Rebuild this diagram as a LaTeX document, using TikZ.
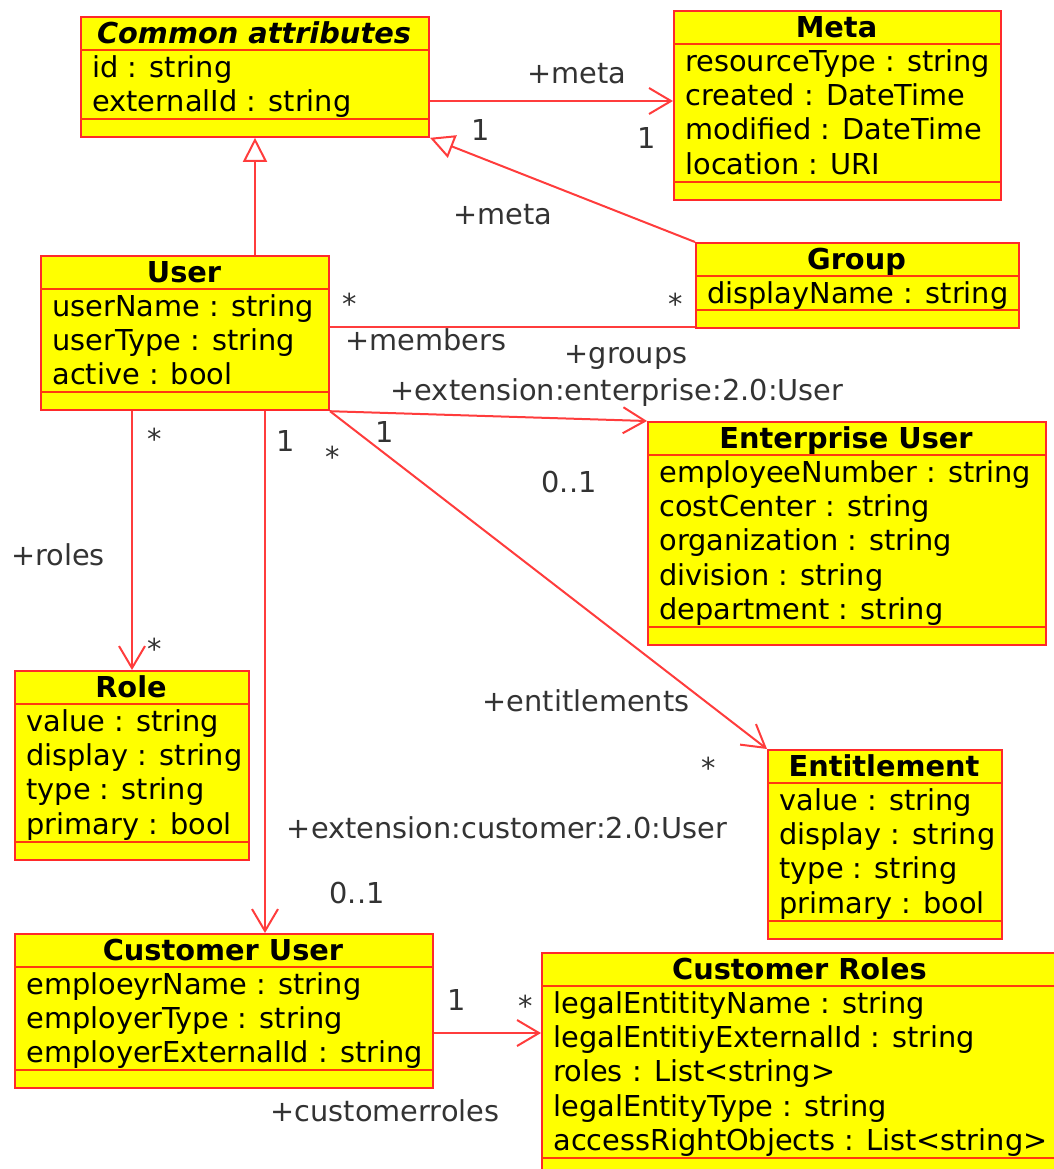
\documentclass[tikz,border=0pt]{standalone}
\usepackage{fontspec}
\setmainfont{DejaVu Sans}
\usetikzlibrary{arrows.meta,calc}

\definecolor{umlfill}{HTML}{FFFF00}
\definecolor{umlborder}{HTML}{FF2A2A}
\definecolor{umlsep}{HTML}{FF3A10}
\definecolor{umlline}{HTML}{FF3C3C}
\definecolor{umllabel}{HTML}{333333}

\newcommand\umlfont{\fontsize{14.4}{17}\selectfont}

\tikzset{
  classbox/.style={draw=umlborder, fill=umlfill, line width=1pt, inner sep=0pt, anchor=north west},
  classsep/.style={draw=umlsep, line width=1pt},
  classtitle/.style={font=\umlfont\bfseries, anchor=base, inner sep=0pt},
  attr/.style={font=\umlfont, anchor=base west, inner sep=0pt},
  lbl/.style={font=\umlfont, text=umllabel, anchor=base, inner sep=0pt},
  assoc/.style={draw=umlline, line width=1pt},
  navig/.style={assoc, -{Straight Barb[length=11pt,width=13pt,line width=1pt]}},
  generalize/.style={assoc, -{Triangle[open,length=12pt,width=12pt,fill=white,line width=1pt]}},
}

% class box: name, left, top, right, number of attributes, title, attribute list
\newcommand\umlclass[7]{%
  \pgfmathsetmacro\umlsepA{#3+34}%
  \pgfmathsetmacro\umlsepB{#3+34+#5*34.4}%
  \pgfmathsetmacro\umlbot{\umlsepB+17}%
  \node[classbox, minimum width={(#4-#2)*0.5pt}, minimum height={(\umlbot-#3)*0.5pt}] (#1) at (#2,#3) {};
  \draw[classsep] (#2,\umlsepA) -- (#4,\umlsepA);
  \draw[classsep] (#2,\umlsepB) -- (#4,\umlsepB);
  \node[classtitle] (#1-t) at ({(#2+#4)/2},{#3+27}) {#6};
  \foreach \t [count=\i] in {#7}
    \node[attr] (#1-a\i) at ({#2+12},{#3+61+(\i-1)*34.4}) {\t};
}

\begin{document}
\begin{tikzpicture}[x=0.5pt,y=-0.5pt]
\useasboundingbox (0,0) rectangle (1054,1169);
\clip (0,0) rectangle (1054,1169);

% classes
\umlclass{common}{80}{16}{428}{2}{\itshape Common attributes}{id : string, externalId : string}
\umlclass{meta}{673}{10}{1000}{4}{Meta}{resourceType : string, created : DateTime, modified : DateTime, location : URI}
\umlclass{group}{695}{242}{1018}{1}{Group}{displayName : string}
\umlclass{user}{40}{255}{328}{3}{User}{userName : string, userType : string, active : bool}
\umlclass{ent}{647}{421}{1045}{5}{Enterprise User}{employeeNumber : string, costCenter : string, organization : string, division : string, department : string}
\umlclass{role}{14}{670}{248}{4}{Role}{value : string, display : string, type : string, primary : bool}
\umlclass{entl}{767}{749}{1001}{4}{Entitlement}{value : string, display : string, type : string, primary : bool}
\umlclass{cuser}{14}{933}{432}{3}{Customer User}{emploeyrName : string, employerType : string, employerExternalId : string}
\umlclass{croles}{541}{952}{1058}{5}{Customer Roles}{legalEntitityName : string, legalEntitiyExternalId : string, roles : List<string>, legalEntityType : string, accessRightObjects : List<string>}

% generalizations
\coordinate (ugen) at ($(user.north west)+(215,0)$);
\draw[generalize] (ugen) -- (ugen |- common.south);
\draw[generalize] (group.north west) -- (common.south east);

% associations
\coordinate (cm) at ($(common.north east)+(0,85)$);
\draw[navig] (cm) -- (cm -| meta.west);
\coordinate (ug) at ($(group.south west)+(0,-2)$);
\draw[assoc] (ug) -- (ug -| user.east);
\draw[navig] (user.south east) -- (ent.north west);
\draw[navig] (user.south east) -- (entl.north west);
\draw[navig] (user.south -| role.north) -- (role.north);
\coordinate (ucu) at ($(user.south west)+(225,0)$);
\draw[navig] (ucu) -- (ucu |- cuser.north);
\coordinate (cucr) at ($(cuser.north east)+(0,100)$);
\draw[navig] (cucr) -- (cucr -| croles.west);

% role names and multiplicities
\node[lbl] (l-meta1) at (577,83) {+meta};
\node[lbl] (m-cm1) at (481,140) {1};
\node[lbl] (m-cm2) at (647,148) {1};
\node[lbl] (l-meta2) at (503,224) {+meta};
\node[lbl] (m-ug1) at (350,314) {*};
\node[lbl] (m-ug2) at (676,314) {*};
\node[lbl] (l-members) at (426,350) {+members};
\node[lbl] (l-groups) at (626,363) {+groups};
\node[lbl] (l-ext-ent) at (617,400) {+extension:enterprise:2.0:User};
\node[lbl] (m-ue1) at (385,442) {1};
\node[lbl] (m-uen1) at (333,467) {*};
\node[lbl] (m-ue2) at (569,492) {0..1};
\node[lbl] (m-ur1) at (155,449) {*};
\node[lbl] (m-uc1) at (286,451) {1};
\node[lbl] (l-roles) at (58,565) {+roles};
\node[lbl] (m-ur2) at (155,659) {*};
\node[lbl] (l-entl) at (586,711) {+entitlements};
\node[lbl] (m-uen2) at (709,778) {*};
\node[lbl] (l-ext-cust) at (507,838) {+extension:customer:2.0:User};
\node[lbl] (m-uc2) at (357,903) {0..1};
\node[lbl] (m-cc1) at (457,1010) {1};
\node[lbl] (m-cc2) at (526,1016) {*};
\node[lbl] (l-custroles) at (385,1121) {+customerroles};
\end{tikzpicture}
\end{document}
